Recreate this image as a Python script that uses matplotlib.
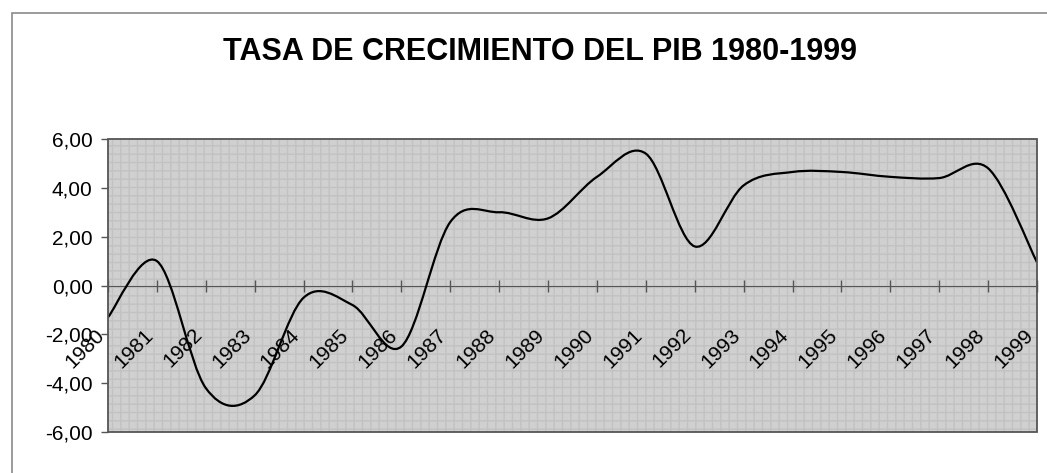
import numpy as np
import matplotlib
matplotlib.use('Agg')
import matplotlib.pyplot as plt
from matplotlib.path import Path
from matplotlib.patches import PathPatch, Rectangle

# tasa de crecimiento del PIB
years = [str(y) for y in range(1980, 2000)]
growth = [-1.3, 1.0, -4.2, -4.5, -0.5, -0.8, -2.5, 2.6, 3.0, 2.75,
          4.45, 5.4, 1.6, 4.1, 4.65, 4.65, 4.45, 4.4, 4.8, 0.95]
y_ticks = [-6, -4, -2, 0, 2, 4, 6]
y_labels = ['-6,00', '-4,00', '-2,00', '0,00', '2,00', '4,00', '6,00']

plt.rcParams['font.family'] = ['Liberation Sans', 'DejaVu Sans']

fig = plt.figure(figsize=(10.47, 4.73), dpi=100)
ax = fig.add_axes([108/1047, 41/473, 929/1047, 293/473])

# marco del area del grafico (estilo Excel)
fig.patches.append(Rectangle((12/1047, -0.05), 1.1, (473-13)/473 + 0.05,
                             transform=fig.transFigure, fill=False,
                             edgecolor='#8a8a8a', lw=1.2))

ax.set_facecolor('#d0d0d0')
ax.add_patch(Rectangle((0, 0), 1, 1, transform=ax.transAxes, fill=False,
                       hatch='++', edgecolor='#c2c2c2', lw=0, zorder=0))

# curva suavizada como en Excel (bezier por los puntos)
x = np.arange(len(growth))
pts = np.column_stack([x, growth])
ext = np.vstack([pts[0], pts, pts[-1]])
verts = [pts[0]]
codes = [Path.MOVETO]
for i in range(len(pts) - 1):
    p0, p1, p2, p3 = ext[i], ext[i+1], ext[i+2], ext[i+3]
    verts += [p1 + (p2 - p0) / 6, p2 - (p3 - p1) / 6, p2]
    codes += [Path.CURVE4] * 3
ax.add_patch(PathPatch(Path(verts, codes), fill=False, edgecolor='black',
                       lw=1.6, zorder=3))

ax.set_xlim(0, len(growth) - 1)
ax.set_ylim(-6, 6)
ax.set_yticks(y_ticks)
ax.set_yticklabels(y_labels, fontsize=15)
ax.tick_params(axis='y', length=5, width=1, color='#555555', pad=6)

ax.spines['bottom'].set_position(('data', 0))
ax.spines['bottom'].set_color('#555555')
for s in ['top', 'left', 'right']:
    ax.spines[s].set_visible(False)
ax.add_patch(Rectangle((0, 0), 1, 1, transform=ax.transAxes, fill=False,
                       edgecolor='#555555', lw=1.3, zorder=4, clip_on=False))

ax.set_xticks(x)
ax.set_xticklabels(years, rotation=45, ha='right', va='top', fontsize=15)
ax.tick_params(axis='x', direction='inout', length=9, width=1,
               color='#555555', pad=24)

fig.text(540/1047, 1 - 52/473, 'TASA DE CRECIMIENTO DEL PIB 1980-1999',
         ha='center', va='center', fontsize=22, fontweight='bold')

fig.savefig('out.png', dpi=100)
